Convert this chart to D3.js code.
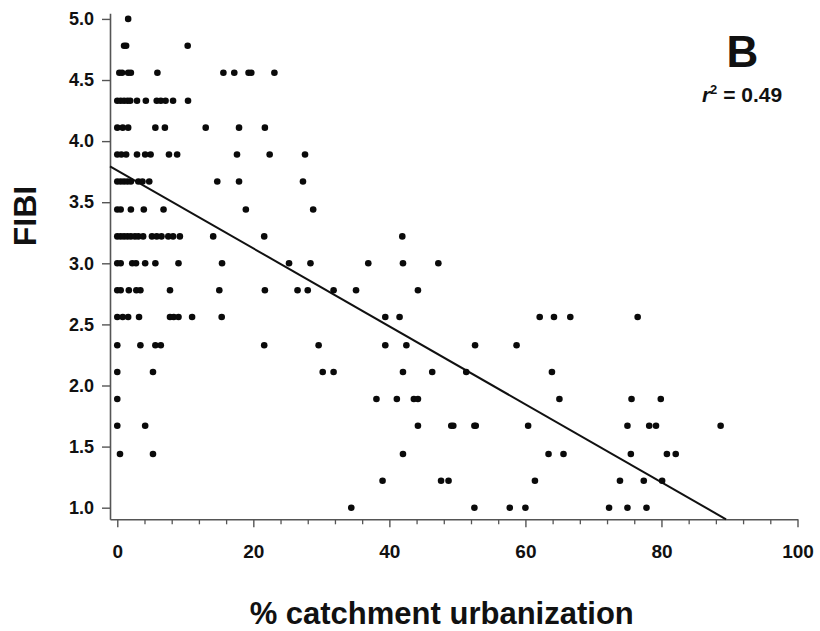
<!DOCTYPE html>
<html><head><meta charset="utf-8">
<script src="https://cdn.jsdelivr.net/npm/d3@7"></script>
<style>
body{margin:0;background:#fff}
svg{display:block}
text{font-family:"Liberation Sans",Arial,sans-serif;font-weight:bold;fill:#111}
</style>
</head><body><svg id="c" width="820" height="631"></svg>
<script>
// FIBI score levels and the % catchment urbanization of each point at that level
const fibiLevels = [5.00, 4.78, 4.56, 4.33, 4.11, 3.89, 3.67, 3.44, 3.22, 3.00, 2.78, 2.56, 2.33, 2.11, 1.89, 1.67, 1.44, 1.22, 1.00];
const urbanAtLevel = [
  [1.6],
  [1.0, 1.3, 10.35],
  [0.3, 0.7, 1.6, 2.0, 5.9, 15.6, 17.2, 19.3, 19.7, 23.1],
  [0, 0.5, 1.0, 1.5, 1.9, 2.9, 4.2, 5.8, 6.4, 7.1, 8.2, 10.4],
  [0, 0.8, 1.6, 5.6, 7.0, 13.0, 17.9, 21.7],
  [0, 0.6, 1.3, 2.9, 4.1, 4.9, 7.6, 8.8, 17.6, 22.4, 27.6],
  [0, 0.5, 1.0, 1.5, 2.0, 3.1, 3.7, 4.7, 14.7, 17.9, 27.3],
  [0, 0.5, 2.0, 3.9, 6.8, 18.9, 28.8],
  [0, 0.5, 1.0, 1.5, 2.0, 2.6, 3.1, 3.8, 5.1, 5.8, 6.5, 7.5, 8.2, 9.2, 14.1, 21.6, 41.9],
  [0, 0.5, 2.2, 2.75, 4.1, 5.6, 9.0, 15.4, 25.25, 28.4, 36.9, 42.0, 47.2],
  [0, 0.5, 1.7, 2.8, 3.4, 7.75, 15.0, 21.7, 26.5, 28.0, 31.8, 35.1, 44.2],
  [0, 0.8, 1.6, 3.2, 7.75, 8.3, 9.0, 11.0, 15.35, 39.4, 41.5, 62.1, 64.2, 66.6, 76.5],
  [0, 3.4, 5.6, 6.4, 21.6, 29.6, 39.4, 42.5, 52.6, 58.7],
  [0, 5.25, 30.2, 31.8, 42.0, 46.3, 51.3, 63.9],
  [0, 38.1, 41.1, 43.6, 44.2, 65.0, 75.6, 79.9],
  [0, 4.1, 44.2, 49.1, 49.4, 52.5, 52.7, 60.4, 75.0, 78.2, 79.2, 88.7],
  [0.4, 5.25, 42.0, 63.4, 65.6, 75.5, 80.8, 82.1],
  [39.0, 47.6, 48.7, 61.4, 73.9, 77.4, 80.1],
  [34.4, 52.5, 57.7, 60.0, 72.3, 75.0, 77.8]
];
const xMajorTicks = [0, 20, 40, 60, 80, 100];
const xMinorTicks = [4, 8, 12, 16, 24, 28, 32, 36, 44, 48, 52, 56, 64, 68, 72, 76, 84, 88, 92, 96];
const yTicks = [1.0, 1.5, 2.0, 2.5, 3.0, 3.5, 4.0, 4.5, 5.0];
const regression = {intercept: 3.76, slope: -0.0319};
const xDomain = [-1.07, 100];
const yDomain = [0.905, 5.046];

const points = [];
fibiLevels.forEach((f, i) => urbanAtLevel[i].forEach(u => points.push({u, f})));

const svg = d3.select("#c");
const x = d3.scaleLinear().domain(xDomain).range([110, 797.5]);
const y = d3.scaleLinear().domain(yDomain).range([519.3, 13.3]);
const axisColor = "#555";

// Y axis
const gy = svg.append("g").attr("transform", `translate(${x(xDomain[0])},0)`)
  .call(d3.axisLeft(y).tickValues(yTicks).tickFormat(d3.format(".1f")).tickSize(8).tickSizeOuter(0).tickPadding(8));
gy.select(".domain").attr("stroke", axisColor).attr("stroke-width", 1.6);
gy.selectAll(".tick line").attr("stroke", axisColor).attr("stroke-width", 1.4);
gy.selectAll(".tick text").attr("font-size", 18).attr("font-family", "Liberation Sans, Arial, sans-serif").attr("font-weight", "bold").attr("fill", "#111");

// X axis minor ticks
const gxm = svg.append("g").attr("transform", `translate(0,${y(yDomain[0])})`)
  .call(d3.axisBottom(x).tickValues(xMinorTicks).tickFormat("").tickSize(5).tickSizeOuter(0));
gxm.select(".domain").remove();
gxm.selectAll(".tick line").attr("stroke", axisColor).attr("stroke-width", 1.3);

// X axis major
const gx = svg.append("g").attr("transform", `translate(0,${y(yDomain[0])})`)
  .call(d3.axisBottom(x).tickValues(xMajorTicks).tickSize(8).tickSizeOuter(0).tickPadding(17.5));
gx.select(".domain").attr("stroke", axisColor).attr("stroke-width", 1.6);
gx.selectAll(".tick line").attr("stroke", axisColor).attr("stroke-width", 1.4);
gx.selectAll(".tick text").attr("font-size", 19).attr("font-family", "Liberation Sans, Arial, sans-serif").attr("font-weight", "bold").attr("fill", "#111");

// regression line
const xEnd = (regression.intercept - yDomain[0]) / -regression.slope;
const lineData = [xDomain[0], xEnd].map(u => ({u, f: regression.intercept + regression.slope * u}));
svg.append("path").datum(lineData)
  .attr("d", d3.line().x(d => x(d.u)).y(d => y(d.f)))
  .attr("fill", "none").attr("stroke", "#111").attr("stroke-width", 2);

// points
svg.append("g").selectAll("circle").data(points).join("circle")
  .attr("cx", d => x(d.u)).attr("cy", d => y(d.f)).attr("r", 3.3).attr("fill", "#0a0a0a");

// labels
svg.append("text").attr("x", 441.7).attr("y", 624).attr("text-anchor", "middle")
  .attr("font-size", 31).text("% catchment urbanization");
svg.append("text").attr("transform", "translate(36,216) rotate(-90)").attr("text-anchor", "middle")
  .attr("font-size", 32).text("FIBI");
svg.append("text").attr("x", 742.5).attr("y", 66.7).attr("text-anchor", "middle")
  .attr("font-size", 44).text("B");
const r2 = svg.append("text").attr("x", 742).attr("y", 101.7).attr("text-anchor", "middle").attr("font-size", 21);
r2.append("tspan").attr("font-style", "italic").text("r");
r2.append("tspan").attr("font-size", 13).attr("dy", -8).text("2");
r2.append("tspan").attr("dy", 8).text(" = 0.49");
</script>
</body></html>
